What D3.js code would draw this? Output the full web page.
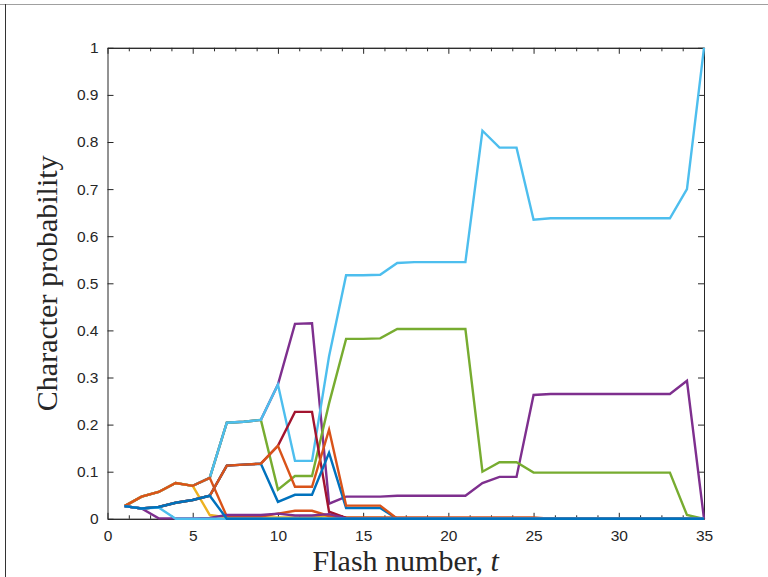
<!DOCTYPE html>
<html>
<head>
<meta charset="utf-8">
<script src="https://cdn.jsdelivr.net/npm/d3@7"></script>
<style>
  body { margin: 0; background: #fff; }
  svg { display: block; }
</style>
</head>
<body>
<div id="wrapper"></div>
<script>
// flash index t
const flashes = [1,2,3,4,5,6,7,8,9,10,11,12,13,14,15,16,17,18,19,20,21,22,23,24,25,26,27,28,29,30,31,32,33,34,35]

// character probabilities, one array per plotted character (draw order: bottom -> top)
const purpleHigh = [0.027,0.047,0.057,0.076,0.070,0.087, 0.204,0.206,0.210,0.285,0.414,0.415,
  0.032,0.047,0.047,0.047,0.049,0.049,0.049,0.049,0.049, 0.076,0.089,0.089,0.263,
  0.265,0.265,0.265,0.265,0.265,0.265,0.265,0.265, 0.293,0]
const greenLine = [0.027,0.047,0.057,0.076,0.070,0.087, 0.204,0.206,0.210,0.062,0.091,0.091,
  0.245,0.382,0.382,0.383,0.403,0.403,0.403,0.403,0.403, 0.100,0.120,0.120,0.098,
  0.098,0.098,0.098,0.098,0.098,0.098,0.098,0.098, 0.008,0]
const lightBlueHigh = [0.027,0.047,0.057,0.076,0.070,0.087, 0.204,0.206,0.210,0.285,0.123,0.123,
  0.345,0.517,0.517,0.518,0.543,0.545,0.545,0.545,0.545, 0.824,0.788,0.788,0.635,
  0.638,0.638,0.638,0.638,0.638,0.638,0.638,0.638, 0.700,1.000]
const yellowLine = [0.027,0.047,0.057,0.076,0.070, 0.008,0.003,0.003,0.003,0.003,0.003,0.003,
  0.006,0.002,0.002,0.002,0.001,0.001,0.001,0.001,0.001, 0.001,0.001,0.001,0.001,
  0,0,0,0,0,0,0,0,0,0]
const orangeHigh = [0.027,0.047,0.057,0.076,0.070,0.087, 0.005,0.005,0.005,0.011,0.017,0.017,
  0.006,0.003,0.003,0.003,0.003,0.003,0.003,0.003,0.003, 0.003,0.003,0.003,0.003,
  0,0,0,0,0,0,0,0,0,0]
const darkRedLine = [0.027,0.022,0.025,0.034,0.040,0.049, 0.113,0.115,0.117,0.155,0.227,0.227,
  0.015,0.002,0,0,0,0,0,0,0, 0,0,0,0, 0,0,0,0,0,0,0,0,0,0]
const blueHigh = [0.027,0.022,0.025,0.034,0.040,0.049, 0.113,0.115,0.117,0.036,0.051,0.051,
  0.140,0.023,0.023,0.023,0,0,0,0,0, 0,0,0,0, 0,0,0,0,0,0,0,0,0,0]
const orangeMid = [0.027,0.022,0.025,0.034,0.040,0.049, 0.113,0.115,0.117,0.155,0.068,0.068,
  0.189,0.028,0.028,0.028,0,0,0,0,0, 0,0,0,0, 0,0,0,0,0,0,0,0,0,0]
const purpleLow = [0.027,0.022,0.001,0.001,0.001,0.002, 0.008,0.008,0.008,0.011,0.007,0.007,
  0.010,0.001,0,0,0,0,0,0,0, 0,0,0,0, 0,0,0,0,0,0,0,0,0,0]
const lightBlueLow = [0.027,0.022,0.024,0,0,0, 0,0,0,0,0,0,
  0,0,0,0,0,0,0,0,0, 0,0,0,0, 0,0,0,0,0,0,0,0,0,0]
const blueLow = [0.027,0.022,0.025,0.034,0.040,0.049, 0,0,0,0,0,0,
  0,0,0,0,0,0,0,0,0, 0,0,0,0, 0,0,0,0,0,0,0,0,0,0]

const xTicks = [0,5,10,15,20,25,30,35]
const xMinorTicks = [1.25,2.5,3.75,6.25,7.5,8.75,11.25,12.5,13.75,16.25,17.5,18.75,21.25,22.5,23.75,26.25,27.5,28.75,31.25,32.5,33.75]
const yTicks = [0,0.1,0.2,0.3,0.4,0.5,0.6,0.7,0.8,0.9,1]

const seriesList = [
  {values: purpleHigh, color: "#7E2F8E"},
  {values: greenLine, color: "#77AC30"},
  {values: lightBlueHigh, color: "#4DBEEE"},
  {values: yellowLine, color: "#EDB120"},
  {values: orangeHigh, color: "#D95319"},
  {values: darkRedLine, color: "#A2142F"},
  {values: blueHigh, color: "#0072BD"},
  {values: orangeMid, color: "#D95319"},
  {values: purpleLow, color: "#7E2F8E"},
  {values: lightBlueLow, color: "#4DBEEE"},
  {values: blueLow, color: "#0072BD"},
]

let dimensions = {
  width: 768,
  height: 577,
  margins: { top: 47.8, right: 64, bottom: 58.2, left: 107.5 },
}
dimensions.boundedWidth = dimensions.width - dimensions.margins.left - dimensions.margins.right
dimensions.boundedHeight = dimensions.height - dimensions.margins.top - dimensions.margins.bottom

const wrapper = d3.select("#wrapper")
  .append("svg")
    .attr("width", dimensions.width)
    .attr("height", dimensions.height)

wrapper.append("rect")
  .attr("width", dimensions.width)
  .attr("height", dimensions.height)
  .attr("fill", "#fff")

// figure frame edges
wrapper.append("line")
  .attr("x1", 0).attr("x2", dimensions.width)
  .attr("y1", 4.5).attr("y2", 4.5)
  .attr("stroke", "#a0a0a0")
wrapper.append("line")
  .attr("x1", 5.5).attr("x2", 5.5)
  .attr("y1", 4).attr("y2", dimensions.height)
  .attr("stroke", "#333")

const bounds = wrapper.append("g")
  .attr("transform", `translate(${dimensions.margins.left},${dimensions.margins.top})`)

const xScale = d3.scaleLinear()
  .domain([0, 35])
  .range([0, dimensions.boundedWidth])

const yScale = d3.scaleLinear()
  .domain([0, 1])
  .range([dimensions.boundedHeight, 0])

const axisColor = "#262626"
const tickFont = "'Liberation Sans', Arial, sans-serif"

// axes (box with inward ticks on all sides)
bounds.append("g")
  .attr("transform", `translate(0,${dimensions.boundedHeight})`)
  .call(d3.axisBottom(xScale).tickValues(xTicks).tickSizeInner(-6).tickSizeOuter(0).tickPadding(11))
bounds.append("g")
  .call(d3.axisTop(xScale).tickValues(xTicks).tickSizeInner(-6).tickSizeOuter(0).tickFormat(""))
bounds.append("g")
  .attr("transform", `translate(0,${dimensions.boundedHeight})`)
  .call(d3.axisBottom(xScale).tickValues(xMinorTicks).tickSizeInner(-3.5).tickSizeOuter(0).tickFormat(""))
bounds.append("g")
  .call(d3.axisTop(xScale).tickValues(xMinorTicks).tickSizeInner(-3.5).tickSizeOuter(0).tickFormat(""))
bounds.append("g")
  .call(d3.axisLeft(yScale).tickValues(yTicks).tickSizeInner(-6).tickSizeOuter(0).tickPadding(9)
    .tickFormat(d => d3.format("")(d)))
bounds.append("g")
  .attr("transform", `translate(${dimensions.boundedWidth},0)`)
  .call(d3.axisRight(yScale).tickValues(yTicks).tickSizeInner(-6).tickSizeOuter(0).tickFormat(""))

bounds.selectAll(".domain, .tick line")
  .attr("stroke", axisColor)
  .attr("stroke-width", 1)
bounds.selectAll(".tick text")
  .attr("fill", axisColor)
  .style("font-family", tickFont)
  .style("font-size", "15.5px")

// Draw Data
const lineGenerator = d3.line()
  .x((d, i) => xScale(flashes[i]))
  .y(d => yScale(d))

bounds.selectAll(".series")
  .data(seriesList)
  .join("path")
    .attr("class", "series")
    .attr("d", d => lineGenerator(d.values))
    .attr("fill", "none")
    .attr("stroke", d => d.color)
    .attr("stroke-width", 2.4)
    .attr("stroke-linejoin", "miter")

// labels
const labelFont = "'Liberation Serif', 'Times New Roman', serif"
const xLabel = wrapper.append("text")
  .attr("x", dimensions.margins.left + dimensions.boundedWidth / 2)
  .attr("y", 571)
  .attr("text-anchor", "middle")
  .attr("fill", axisColor)
  .style("font-family", labelFont)
  .style("font-size", "30px")
xLabel.append("tspan").text("Flash number, ")
xLabel.append("tspan").style("font-style", "italic").text("t")

wrapper.append("text")
  .attr("transform", `translate(57,${dimensions.margins.top + dimensions.boundedHeight / 2}) rotate(-90)`)
  .attr("text-anchor", "middle")
  .attr("fill", axisColor)
  .style("font-family", labelFont)
  .style("font-size", "30px")
  .text("Character probability")
</script>
</body>
</html>
